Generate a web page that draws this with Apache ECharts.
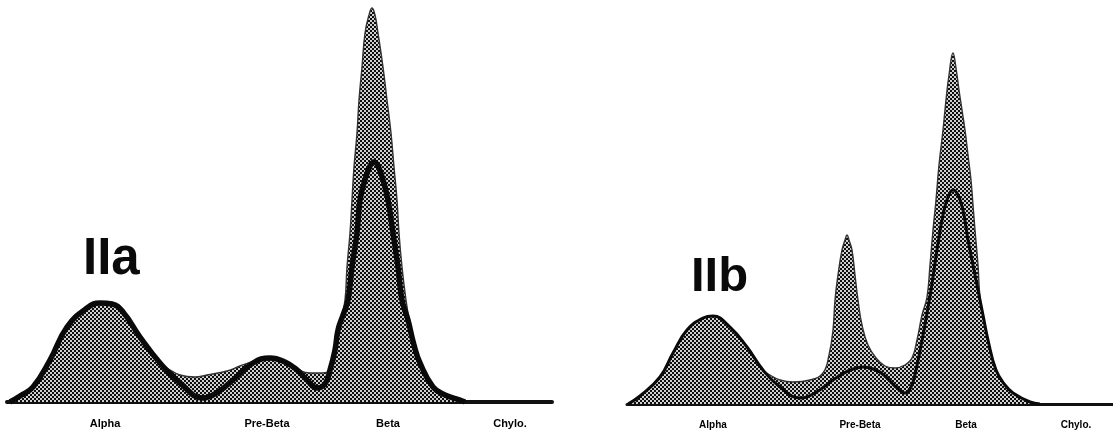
<!DOCTYPE html>
<html><head><meta charset="utf-8">
<script src="https://cdn.jsdelivr.net/npm/echarts@6/dist/echarts.min.js"></script>
<style>html,body{margin:0;padding:0;background:#fff}#c{width:1113px;height:433px}</style>
</head><body><div id="c"></div><script>
// Fraction names shown under each densitometer trace
const labelNames = ['Alpha', 'Pre-Beta', 'Beta', 'Chylo.'];
// Mobility positions of the fraction labels (strip units)
const iiaLabelPos = [19.6, 52, 76.2, 100.6];
const iibLabelPos = [17.2, 46.6, 67.8, 89.8];
const panelTitles = ['IIa', 'IIb'];

// Type IIa: total (shaded) trace and outlined trace, [mobility, density]
const iiaTotal = [[0.6,0],[2.6,1.5],[5.2,3.75],[8.6,10.5],[12,18.75],[16,23.5],[18.6,24.75],[21,24.5],[23.2,22.5],[26.6,16.25],[30.6,9.75],[32,8.5],[34.6,6.75],[37.6,6.25],[40,6.75],[44,7.75],[46.6,9],[49.6,10.25],[52.6,11],[55.6,10],[58,8.25],[60.6,7.25],[63,7.25],[65,8.5],[66,14.25],[66.8,20.5],[67.6,25.5],[68,33.75],[68.6,42.25],[69,50.5],[69.4,58.75],[70,67.25],[70.4,75.5],[71,83.75],[71.6,92.25],[72.4,96.75],[73,98.5],[73.6,96.75],[74.2,92.25],[75.2,83.75],[76,75.5],[76.8,67.25],[77.4,58.75],[78,50.5],[78.4,42.25],[79,33.75],[79.8,25.5],[80.6,19.25],[81.6,13],[82.8,8.5],[85.2,3.5],[87.6,1.5],[90.2,0.5],[91.6,0]];
const iiaLine = [[0.6,0],[2.6,1.5],[5.2,3.75],[8.6,10.5],[12,18.75],[16,23.5],[18.6,24.75],[21,24.5],[23.2,22.5],[26.6,16.25],[30.6,9.75],[34.6,4.75],[39.2,1],[42.2,2.5],[45.2,5.5],[49.2,9.75],[52.6,11],[55.6,10],[58,8],[60,5.5],[62,3.5],[63.6,4.5],[64.6,8],[65.6,13],[66.2,18],[67.2,21.75],[68.2,25.5],[69,33.75],[70,42.25],[70.6,50.5],[71.6,55.5],[72.6,59],[73.4,60],[74.2,59],[75.2,55.5],[76.2,50.5],[77.2,42.25],[78.2,33.75],[79,25.5],[80.2,20.5],[81.4,14.25],[82.6,9.75],[85.2,3.75],[87.6,1.75],[90.6,0.5],[91.6,0]];

// Type IIb
const iibTotal = [[0.2,0],[2.6,2],[6.6,6.75],[9.2,12.75],[12,18.5],[15.2,21.5],[17.2,22],[20.6,19.25],[24,14.25],[27.2,8.5],[28.6,7.25],[30.6,6],[33.2,5.5],[36.6,6],[39.2,7.75],[40.4,12.25],[41.2,18.5],[41.6,26],[42.2,32.25],[43,38.5],[43.6,41],[44,42.25],[44.4,41],[45,38.5],[45.6,32.25],[46.2,26],[47,19.75],[48.2,14.75],[49.8,11.5],[51.6,9.5],[53.6,9],[55.6,9.75],[57,11.5],[58,16],[59,22.25],[60,26.75],[60.6,34.75],[61.2,43.5],[61.8,51],[62.4,59.75],[63.2,68.5],[63.8,76],[64.4,82.25],[65.2,87.75],[65.8,84],[66.4,78.5],[67,73.5],[67.6,68.5],[68.2,62.25],[68.8,56],[69.2,49.75],[69.6,43.5],[70.2,34.75],[70.6,26.75],[71.4,21],[72.2,16],[73.8,8.5],[75.6,4.75],[77.2,2.75],[80.6,0.5],[82.6,0]];
const iibLine = [[0.2,0],[2.6,2],[6.6,6.75],[9.2,12.75],[12,18.5],[15.2,21.5],[17.2,22],[20.6,19.25],[24,14.25],[27.2,8.5],[30.6,4.25],[34.6,1.5],[37.6,2.75],[41.2,6],[44.2,8.25],[47.2,9.25],[49.8,8.5],[51.8,6.75],[53.8,4.25],[55.6,2.75],[56.8,4.25],[57.8,8.5],[59.4,18.5],[60.8,28.5],[62,38.5],[63.2,47.25],[64.2,51.75],[65.2,53.5],[66.2,52.25],[67.2,48.5],[68.2,41],[69.2,34.75],[70.2,28.5],[71.2,22.25],[72.2,16],[73.8,8.5],[75.6,4.75],[77.2,2.75],[80.6,0.5],[82.6,0]];

function makePattern() {
  const c = document.createElement('canvas');
  c.width = 4; c.height = 4;
  const g = c.getContext('2d');
  g.fillStyle = '#d0d0d0'; g.fillRect(0, 0, 4, 4);
  g.fillStyle = '#0e0e0e'; g.fillRect(0, 0, 2, 2); g.fillRect(2, 2, 2, 2);
  return c;
}
const pat = makePattern();

function findName(posArr, v) {
  const i = posArr.findIndex(p => Math.abs(p - v) < 0.01);
  return i >= 0 ? labelNames[i] : '';
}

function xAxisFor(idx, max, pos, width, fontSize) {
  return {
    type: 'value', gridIndex: idx, min: 0, max: max,
    axisLine: { show: true, onZero: true, lineStyle: { color: '#111', width: width } },
    axisTick: { show: false }, splitLine: { show: false },
    axisLabel: {
      customValues: pos, margin: 16, color: '#000', fontWeight: 'bold',
      fontSize: fontSize, fontFamily: 'Liberation Sans, Arial, sans-serif',
      formatter: v => findName(pos, v)
    }
  };
}
function yAxisFor(idx, max) {
  return { type: 'value', gridIndex: idx, min: 0, max: max, show: false };
}
function totalSeries(idx, data) {
  return { type: 'line', xAxisIndex: idx, yAxisIndex: idx, data: data, smooth: 0.45, symbol: 'none',
    lineStyle: { color: '#333', width: 1.4 },
    areaStyle: { color: { image: pat, repeat: 'repeat' }, opacity: 1 }, z: 2 };
}
function lineSeries(idx, data, w) {
  return { type: 'line', xAxisIndex: idx, yAxisIndex: idx, data: data, smooth: 0.45, symbol: 'none',
    lineStyle: { color: '#0a0a0a', width: w }, z: 3 };
}

const chart = echarts.init(document.getElementById('c'), null, { renderer: 'canvas' });
chart.setOption({
  animation: false,
  backgroundColor: '#fff',
  grid: [
    { left: 7, top: 0, width: 545, height: 402 },
    { left: 627, top: 0, width: 486, height: 404 }
  ],
  xAxis: [xAxisFor(0, 109, iiaLabelPos, 4, 11), xAxisFor(1, 97.2, iibLabelPos, 3, 10)],
  yAxis: [yAxisFor(0, 100.5), yAxisFor(1, 101)],
  series: [totalSeries(0, iiaTotal), lineSeries(0, iiaLine, 5.5), totalSeries(1, iibTotal), lineSeries(1, iibLine, 3)],
  graphic: [
    { type: 'text', x: 83, y: 260, style: { text: panelTitles[0], font: 'bold 51px "Liberation Sans", Arial, sans-serif', fill: '#0a0a0a', align: 'left', verticalAlign: 'middle' } },
    { type: 'text', x: 691, y: 277, style: { text: panelTitles[1], font: 'bold 49px "Liberation Sans", Arial, sans-serif', fill: '#0a0a0a', align: 'left', verticalAlign: 'middle' } }
  ]
});
</script></body></html>
